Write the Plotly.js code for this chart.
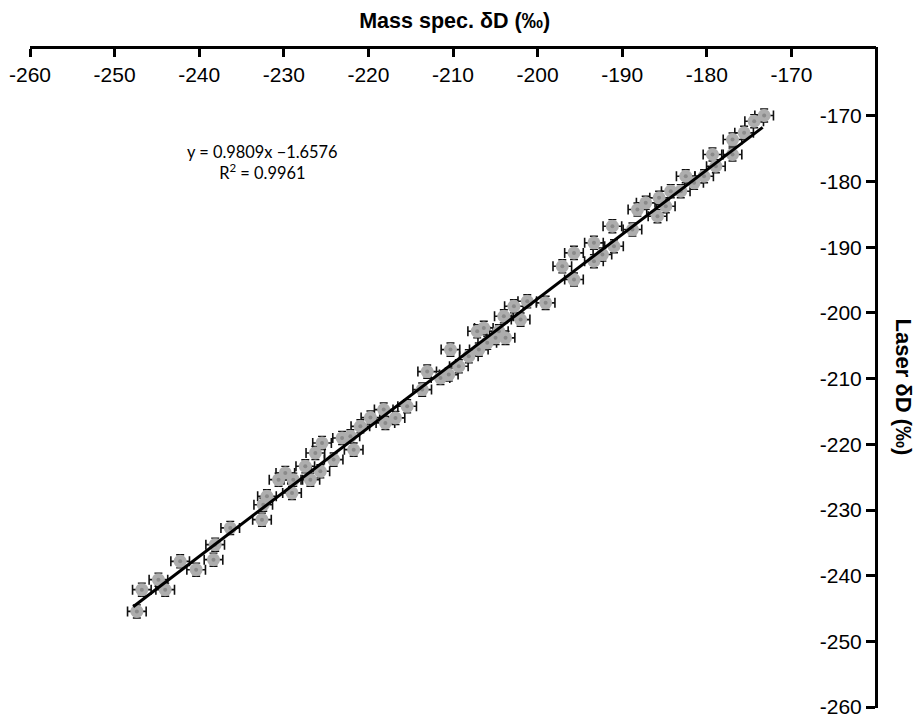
<!DOCTYPE html>
<html>
<head>
<meta charset="utf-8">
<script src="https://cdn.plot.ly/plotly-3.0.1.min.js"></script>
<style>html,body{margin:0;padding:0;background:#fff;}#chart{width:915px;height:715px;}</style>
</head>
<body>
<div id="chart"></div>
<script>
// Mass spec. δD (‰) values (x) and laser δD (‰) values (y)
const massSpec = [-247.37,-246.78,-244.82,-244.02,-242.25,-240.36,-238.11,-238.31,-236.33,-232.58,
  -231.99,-232.43,-230.62,-229.82,-229.03,-228.88,-227.46,-226.86,-225.68,-226.27,
  -225.48,-224.11,-223.11,-222.13,-221.74,-220.95,-219.76,-217.99,-218.19,-216.80,
  -215.42,-213.64,-213.05,-211.48,-210.50,-209.31,-210.30,-208.13,-206.95,-207.14,
  -205.95,-204.97,-203.79,-204.58,-206.36,-203.99,-202.80,-202.01,-201.22,-199.05,
  -197.08,-195.70,-195.70,-193.34,-193.34,-192.34,-191.16,-190.97,-188.79,-188.20,
  -187.22,-185.83,-185.64,-184.85,-184.26,-183.08,-182.49,-181.50,-180.32,-179.33,
  -178.93,-176.96,-176.96,-175.59,-174.40,-173.22];
const laser = [-245.44,-242.13,-240.61,-242.13,-237.82,-239.09,-235.28,-237.56,-232.73,-231.47,
  -227.92,-229.19,-225.38,-224.36,-227.40,-225.38,-223.35,-225.38,-224.11,-221.31,
  -219.79,-222.33,-219.03,-218.78,-220.81,-217.26,-215.93,-216.74,-214.71,-215.98,
  -214.21,-211.67,-208.93,-209.89,-209.38,-208.12,-205.58,-206.60,-205.58,-202.79,
  -204.55,-203.79,-203.79,-202.79,-202.27,-200.50,-198.98,-201.01,-198.22,-198.46,
  -192.89,-190.85,-194.91,-189.32,-192.12,-191.10,-186.79,-189.84,-187.30,-184.25,
  -183.23,-185.27,-182.47,-183.75,-181.46,-181.46,-179.18,-180.18,-179.18,-175.87,
  -177.65,-175.87,-173.59,-172.57,-170.80,-169.93];
const errX = 1.1;
const errY = 1.0;
// regression y = slope * x + intercept
const slope = 0.9809;
const intercept = -1.6576;
const fitX = [-247.8, -173.4];
const fitY = fitX.map(v => slope * v + intercept);
const tickVals = [-260,-250,-240,-230,-220,-210,-200,-190,-180,-170];
const tickText = ['-260','-250','-240','-230','-220','-210','-200','-190','-180','-170'];

const traces = [
  {
    x: massSpec, y: laser, type: 'scatter', mode: 'markers',
    marker: {size: 13, color: '#adadad', line: {width: 0}},
    error_x: {type: 'constant', value: errX, color: '#111', thickness: 1.6, width: 5},
    error_y: {type: 'constant', value: errY, color: '#111', thickness: 1.4, width: 4},
    hoverinfo: 'x+y', showlegend: false
  },
  {
    x: massSpec, y: laser, type: 'scatter', mode: 'markers',
    marker: {size: 4, color: '#8a8a8a'}, hoverinfo: 'skip', showlegend: false
  },
  {
    x: fitX, y: fitY, type: 'scatter', mode: 'lines',
    line: {color: '#000', width: 3}, hoverinfo: 'skip', showlegend: false
  }
];

const axisFont = {family: 'Liberation Sans', size: 21, color: '#000'};
const layout = {
  width: 915, height: 715,
  margin: {l: 30, r: 39, t: 47, b: 7, pad: 0},
  paper_bgcolor: '#fff', plot_bgcolor: '#fff',
  showlegend: false,
  title: {
    text: '<b>Mass spec. δD (‰)</b>',
    font: {family: 'Liberation Sans', size: 21.5, color: '#000'},
    x: 0.497, xanchor: 'center', y: 0.972, yanchor: 'middle'
  },
  xaxis: {
    side: 'bottom', anchor: 'free', position: 1,
    range: [-260, -160], autorange: false,
    tickvals: tickVals, ticktext: tickText,
    ticks: 'outside', ticklen: 8, tickwidth: 3, tickcolor: '#000',
    ticklabelstandoff: 0, ticklabeloverflow: 'allow',
    showline: true, linewidth: 3, linecolor: '#000',
    showgrid: false, zeroline: false, automargin: false,
    tickfont: axisFont
  },
  yaxis: {
    side: 'left', anchor: 'free', position: 1,
    range: [-260.15, -159.5], autorange: false,
    tickvals: tickVals, ticktext: tickText,
    ticks: 'outside', ticklen: 9, tickwidth: 3, tickcolor: '#000',
    ticklabelstandoff: 0, ticklabeloverflow: 'allow',
    showline: true, linewidth: 3, linecolor: '#000',
    showgrid: false, zeroline: false, automargin: false,
    tickfont: axisFont
  },
  annotations: [
    {
      text: 'y = 0.9809x −1.6576<br>R<sup>2</sup> = 0.9961',
      xref: 'paper', yref: 'paper', x: 0.275, y: 0.826,
      xanchor: 'center', yanchor: 'middle', showarrow: false, align: 'center',
      font: {family: 'Lato', size: 16.4, color: '#000'}
    },
    {
      text: '<b>Laser δD (‰)</b>',
      xref: 'paper', yref: 'paper', x: 1.033, y: 0.485,
      xanchor: 'center', yanchor: 'middle', showarrow: false, textangle: 90,
      font: {family: 'Liberation Sans', size: 22, color: '#000'}
    }
  ]
};

Plotly.newPlot('chart', traces, layout, {displayModeBar: false, staticPlot: true});
</script>
</body>
</html>
